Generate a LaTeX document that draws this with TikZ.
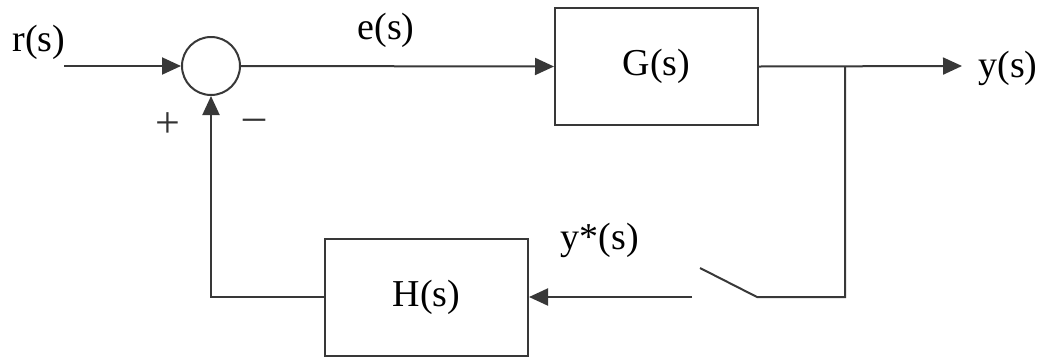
\documentclass[tikz,border=0pt]{standalone}
\usepackage{fontspec}
\setmainfont{Liberation Serif}
\usetikzlibrary{arrows.meta}
\begin{document}
\begin{tikzpicture}[x=1pt,y=-1pt,
  line/.style={draw=black!78,line width=2pt},
  arr/.style={line,-{Triangle[length=19pt,width=17pt]}},
  blk/.style={draw=black!78,line width=2pt,minimum width=203pt,minimum height=117pt,inner sep=0pt},
  lbl/.style={font=\fontsize{38}{42}\selectfont,inner sep=0pt},
  sgn/.style={font=\fontsize{44}{48}\selectfont,inner sep=0pt,text=black!80},
  sumc/.style={draw=black!78,line width=2pt,circle,minimum size=58pt,inner sep=0pt}]
\useasboundingbox (0,0) rectangle (1048,357);
\node[sumc] (sum) at (211,66) {};
\node[blk] (G) at (656.5,66.5) {};
\node[lbl] at (G.center) {G(s)};
\node[blk] (H) at (426.5,297) {};
\node[lbl] at (H.center) {H(s)};
\coordinate (in) at (64,66);
\coordinate (out) at (962,66);
\coordinate (br) at (845,66);
\coordinate (sw1) at (845,297);
\coordinate (sw2) at (757,297);
\coordinate (sw3) at (700,268);
\coordinate (sw4) at (692,297);
\coordinate (fb) at (211,297);
\node[lbl] (r) at (39,42) {r(s)};
\node[lbl] (e) at (386,30) {e(s)};
\node[lbl] (y) at (1008,68) {y(s)};
\node[lbl] (ys) at (600,240) {y*(s)};
\node[sgn] (plus) at (168,125) {+};
\node[sgn] (minus) at (254,125) {\textendash};
\draw[arr] (in) -- (sum.west);
\draw[arr] (sum.east) -- (G.west);
\draw[arr] (G.east) -- (out);
\draw[line] (br) -- (sw1) -- (sw2) -- (sw3);
\draw[arr] (sw4) -- (H.east);
\draw[arr] (H.west) -- (fb) -- (sum.south);
\end{tikzpicture}
\end{document}
